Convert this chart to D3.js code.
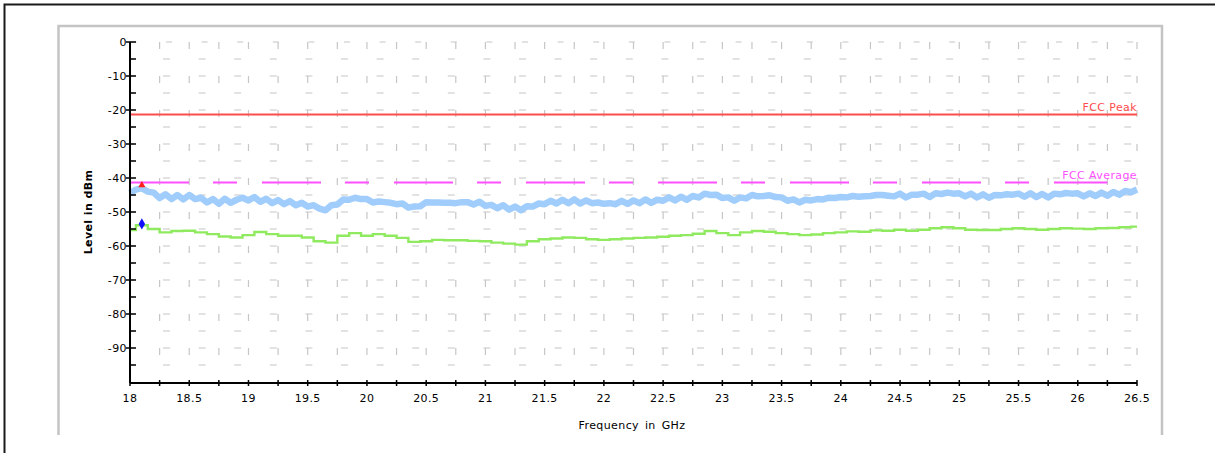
<!DOCTYPE html>
<html>
<head>
<meta charset="utf-8">
<script src="https://cdn.jsdelivr.net/npm/d3@7"></script>
<style>
  body { margin: 0; background: #fff; }
  svg text { font-family: "DejaVu Sans", Verdana, sans-serif; font-size: 11px; letter-spacing: 0.4px; }
</style>
</head>
<body>
<div id="chart"></div>
<script>
// sweep 18 - 26.5 GHz
const freqStart = 18, freqEnd = 26.5;
const peakStep = 0.05, avgStep = 0.1;

// peak detector trace (dBm), one value per 0.05 GHz
const peakTrace = [
  -44.5,-43.4,-43.0,-44.0,-44.3,-45.9,-44.8,-46.2,-45.0,-46.3,
  -45.0,-46.2,-45.8,-47.2,-46.2,-47.6,-46.1,-47.3,-46.4,-45.8,
  -46.6,-45.6,-47.0,-46.1,-47.4,-46.5,-47.7,-46.8,-48.0,-47.3,
  -48.4,-48.0,-49.0,-49.5,-48.0,-47.8,-46.3,-46.4,-45.8,-46.2,
  -46.2,-47.2,-46.9,-47.1,-47.3,-47.7,-47.5,-48.7,-48.4,-48.3,
  -47.1,-47.2,-47.2,-47.3,-47.3,-47.4,-47.1,-47.1,-47.8,-47.0,
  -48.2,-47.9,-48.9,-48.0,-49.3,-48.4,-49.5,-48.3,-48.4,-47.5,
  -47.7,-46.7,-47.5,-46.4,-47.4,-46.3,-47.5,-46.6,-47.4,-47.2,
  -47.6,-47.4,-47.7,-46.7,-47.6,-46.6,-47.4,-46.3,-47.3,-46.4,
  -46.7,-45.7,-46.6,-45.5,-46.4,-45.3,-45.7,-44.6,-45.0,-44.9,
  -45.9,-45.7,-46.7,-45.7,-46.0,-45.0,-45.4,-45.3,-45.1,-45.6,
  -45.7,-46.7,-46.3,-47.2,-46.4,-46.6,-46.2,-46.3,-45.8,-45.9,
  -45.6,-45.7,-45.3,-45.5,-45.4,-45.3,-45.0,-45.0,-45.2,-45.4,
  -44.6,-45.7,-44.9,-44.9,-44.6,-45.6,-44.5,-44.7,-44.3,-44.6,
  -44.5,-45.4,-44.6,-45.7,-44.8,-45.8,-45.0,-45.1,-44.8,-44.9,
  -44.6,-45.5,-44.5,-45.6,-44.7,-45.7,-44.6,-44.8,-44.4,-44.6,
  -44.5,-45.4,-44.5,-45.3,-44.3,-45.2,-44.1,-44.9,-43.8,-44.2,
  -43.4
];

// average detector trace (dBm), one value per 0.1 GHz
const avgTrace = [
  -55.3,-53.9,-55.0,-56.0,-55.6,-55.5,-56.0,-56.5,-57.2,-57.5,
  -56.8,-55.9,-56.5,-57.0,-57.0,-57.5,-58.6,-59.0,-57.0,-56.2,
  -57.0,-56.5,-57.0,-57.6,-58.8,-58.6,-58.2,-58.3,-58.3,-58.5,
  -58.6,-59.0,-59.3,-59.6,-58.6,-58.0,-57.8,-57.5,-57.6,-58.0,
  -58.2,-58.0,-57.8,-57.6,-57.5,-57.3,-57.0,-56.8,-56.4,-55.6,
  -56.2,-56.8,-56.0,-55.6,-55.8,-56.2,-56.5,-56.8,-56.6,-56.2,
  -56.0,-55.7,-55.8,-55.4,-55.5,-55.2,-55.5,-55.2,-54.8,-54.5,
  -54.8,-55.2,-55.3,-55.3,-55.0,-54.8,-55.0,-55.2,-55.0,-54.8,
  -54.9,-55.0,-54.8,-54.7,-54.5,-54.3
];

// limit lines
const limits = [
  {name: "FCC Peak", level: -21.3, color: "#ff4d4d", dash: null},
  {name: "FCC Average", level: -41.3, color: "#ff50ff", dash: "59,24,24,25"}
];

// markers [GHz, dBm]
const peakMarker = [18.1, -42.1];
const avgMarker = [18.1, -53.5];

const yTicks = [0, -10, -20, -30, -40, -50, -60, -70, -80, -90];
const xTicks = [18, 18.5, 19, 19.5, 20, 20.5, 21, 21.5, 22, 22.5, 23, 23.5, 24, 24.5, 25, 25.5, 26, 26.5];

const W = 1215, H = 453;
const margin = {top: 42, right: 78, bottom: 71, left: 130};

const svg = d3.select("#chart").append("svg")
    .attr("width", W)
    .attr("height", H);

// outer frame + panel
svg.append("path").attr("d", `M4.5,${H} V4.5 H${W}`)
    .attr("fill", "none").attr("stroke", "#1a1a1a").attr("stroke-width", 2);
svg.append("path").attr("d", "M58.5,435 V26 H1162 V435")
    .attr("fill", "none").attr("stroke", "#c4c4c4").attr("stroke-width", 2.5);

const x = d3.scaleLinear().domain([freqStart, freqEnd]).range([margin.left, W - margin.right]);
const y = d3.scaleLinear().domain([0, -100]).range([margin.top, H - margin.bottom]);

// dashed grid
const grid = svg.append("g").attr("stroke", "#c6c6c6").attr("stroke-width", 1.2);
grid.selectAll(".hg").data(d3.range(1, 20).map(i => -5 * i))
  .enter().append("line")
    .attr("x1", x(freqStart)).attr("x2", x(freqEnd))
    .attr("y1", d => y(d)).attr("y2", d => y(d))
    .attr("stroke-dasharray", "7,28.6")
    .attr("stroke-dashoffset", -33);
grid.selectAll(".hg0").data([0])
  .enter().append("line")
    .attr("x1", x(freqStart)).attr("x2", x(freqEnd))
    .attr("y1", y(0)).attr("y2", y(0))
    .attr("stroke-dasharray", "6,29.6")
    .attr("stroke-dashoffset", -36);
grid.selectAll(".vg").data(d3.range(1, 35).map(i => freqStart + i * 0.25))
  .enter().append("line")
    .attr("x1", d => x(d)).attr("x2", d => x(d))
    .attr("y1", y(0)).attr("y2", y(-100))
    .attr("stroke-dasharray", "7,27");

// limit lines
limits.forEach(l => {
  svg.append("line")
      .attr("x1", x(freqStart)).attr("x2", l.dash ? x(26.25) : x(freqEnd))
      .attr("y1", y(l.level)).attr("y2", y(l.level))
      .attr("stroke", l.color).attr("stroke-width", 2)
      .attr("stroke-dasharray", l.dash);
  svg.append("text")
      .attr("x", x(freqEnd)).attr("y", y(l.level) - 3.5)
      .attr("text-anchor", "end")
      .attr("fill", l.color)
      .text(l.name);
});

// traces
const peakLine = d3.line()
    .x((d, i) => x(freqStart + i * peakStep))
    .y(d => y(d));
const avgLine = d3.line()
    .x((d, i) => x(freqStart + i * avgStep))
    .y(d => y(d))
    .curve(d3.curveStep);

svg.append("path").datum(peakTrace)
    .attr("d", peakLine)
    .attr("fill", "none").attr("stroke", "#a0cdfb").attr("stroke-width", 6.5)
    .attr("stroke-linejoin", "round");
svg.append("path").datum(avgTrace)
    .attr("d", avgLine)
    .attr("fill", "none").attr("stroke", "#90ea60").attr("stroke-width", 2.4);

// markers
svg.append("path")
    .attr("transform", `translate(${x(peakMarker[0])},${y(peakMarker[1])})`)
    .attr("d", d3.symbol(d3.symbolTriangle, 22)())
    .attr("fill", "#ff2020");
svg.append("path")
    .attr("transform", `translate(${x(avgMarker[0])},${y(avgMarker[1])})`)
    .attr("d", d3.symbol(d3.symbolDiamond, 36)())
    .attr("fill", "#1010ff");

// axes
const yAxis = svg.append("g").attr("transform", `translate(${margin.left},0)`);
yAxis.append("line").attr("y1", y(0)).attr("y2", y(-100) + 1)
    .attr("stroke", "#000").attr("stroke-width", 2);
yAxis.selectAll(".yt").data(d3.range(0, 20).map(i => -5 * i))
  .enter().append("line")
    .attr("x1", d => d % 10 === 0 ? -4 : 0).attr("x2", 6)
    .attr("y1", d => y(d)).attr("y2", d => y(d))
    .attr("stroke", "#000").attr("stroke-width", 1.5);
yAxis.selectAll(".yl").data(yTicks)
  .enter().append("text")
    .attr("x", -3).attr("y", d => y(d) + 4)
    .attr("text-anchor", "end")
    .text(d => d);

const xAxis = svg.append("g").attr("transform", `translate(0,${y(-100) + 1})`);
xAxis.append("line").attr("x1", x(freqStart)).attr("x2", x(freqEnd))
    .attr("stroke", "#000").attr("stroke-width", 2);
xAxis.selectAll(".xt").data(d3.range(0, 35).map(i => freqStart + i * 0.25))
  .enter().append("line")
    .attr("x1", d => x(d)).attr("x2", d => x(d))
    .attr("y1", -3).attr("y2", 3)
    .attr("stroke", "#000").attr("stroke-width", 1.5);
xAxis.selectAll(".xl").data(xTicks)
  .enter().append("text")
    .attr("x", d => x(d)).attr("y", 19)
    .attr("text-anchor", "middle")
    .text(d => d);

// titles
svg.append("text")
    .attr("x", 632).attr("y", 429)
    .attr("text-anchor", "middle")
    .attr("word-spacing", "2px")
    .text("Frequency in GHz");
svg.append("text")
    .attr("transform", "translate(92,212) rotate(-90)")
    .attr("text-anchor", "middle")
    .attr("font-weight", "bold")
    .text("Level in dBm");
</script>
</body>
</html>
